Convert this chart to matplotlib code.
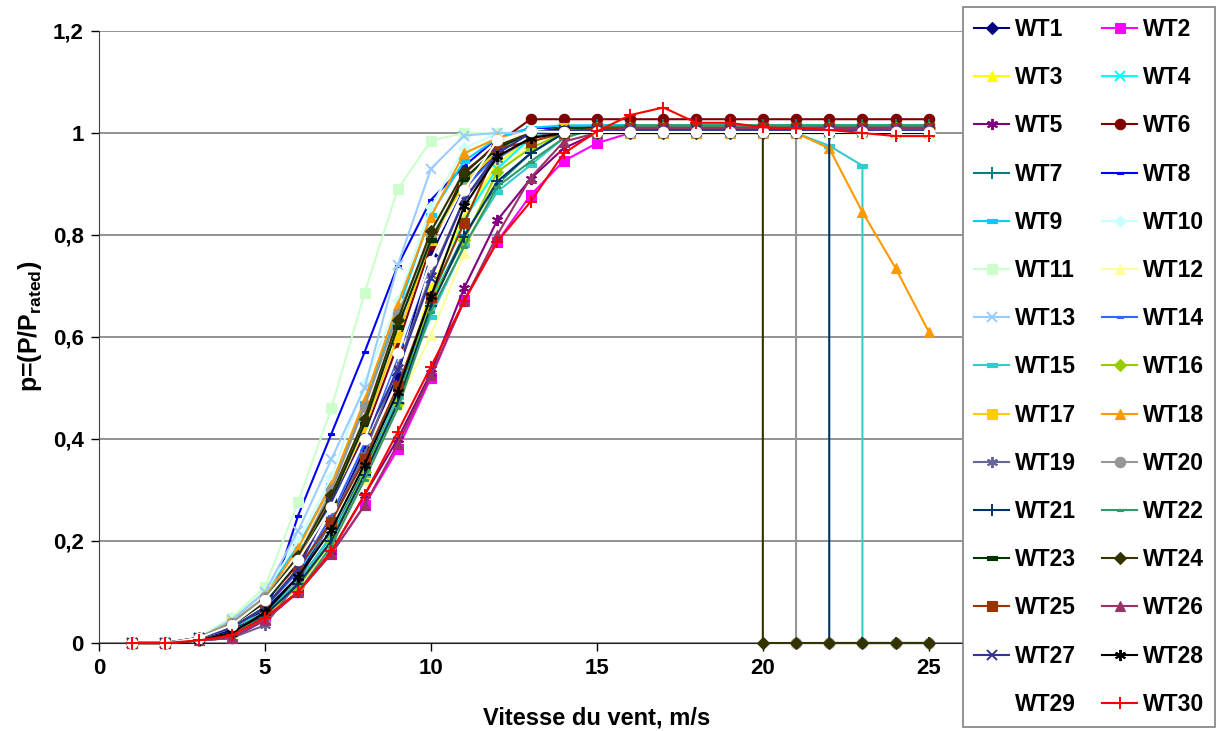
import matplotlib
matplotlib.use("Agg")
import matplotlib.pyplot as plt
from matplotlib.path import Path

plt.rcParams['font.family'] = ['Liberation Sans', 'DejaVu Sans']
plt.rcParams['font.weight'] = 'bold'
plt.rcParams['mathtext.fontset'] = 'custom'
plt.rcParams['mathtext.rm'] = 'Liberation Sans:bold'
plt.rcParams['mathtext.bf'] = 'Liberation Sans:bold'
plt.rcParams['mathtext.it'] = 'Liberation Sans:bold'

speeds = list(range(1, 26))

WT1 = [0, 0, 0.005, 0.025, 0.065, 0.13, 0.24, 0.38, 0.525, 0.761, 0.89, 0.965, 1.0, 1.01, 1.01, 1.01, 1.01, 1.01, 1.01, 1.01, 1.01, 1.01, 1.01, 1.01, 1.01]
WT2 = [0, 0, 0.005, 0.01, 0.045, 0.10, 0.175, 0.27, 0.38, 0.52, 0.673, 0.787, 0.878, 0.945, 0.98, 1.0, 1.005, 1.01, 1.01, 1.01, 1.01, 1.01, 1.01, 1.01, 1.01]
WT3 = [0, 0, 0.005, 0.02, 0.06, 0.11, 0.20, 0.33, 0.475, 0.696, 0.836, 0.94, 0.99, 1.0, 1.0, 1.0, 1.0, 1.0, 1.0, 1.0, 1.0, 1.0, 1.0, 1.0, 1.0]
WT4 = [0, 0, 0.01, 0.04, 0.08, 0.14, 0.24, 0.36, 0.49, 0.67, 0.83, 0.93, 0.99, 1.01, 1.015, 1.015, 1.015, 1.015, 1.015, 1.015, 1.015, 1.015, 1.015, 1.015, 1.015]
WT5 = [0, 0, 0.005, 0.01, 0.045, 0.10, 0.18, 0.29, 0.40, 0.53, 0.696, 0.829, 0.91, 0.97, 1.0, 1.005, 1.005, 1.005, 1.005, 1.005, 1.005, 1.005, 1.005, 1.005, 1.005]
WT6 = [0, 0, 0.01, 0.035, 0.08, 0.155, 0.27, 0.41, 0.585, 0.78, 0.92, 0.98, 1.027, 1.027, 1.027, 1.027, 1.027, 1.027, 1.027, 1.027, 1.027, 1.027, 1.027, 1.027, 1.027]
WT7 = [0, 0, 0.005, 0.02, 0.06, 0.12, 0.21, 0.34, 0.48, 0.667, 0.80, 0.90, 0.96, 1.0, 1.015, 1.015, 1.015, 1.015, 1.015, 1.015, 1.015, 1.015, 1.015, 1.015, 1.015]
WT8 = [0, 0, 0.005, 0.02, 0.05, 0.25, 0.41, 0.57, 0.74, 0.869, 0.935, 0.99, 1.01, 1.01, 1.01, 1.01, 1.01, 1.01, 1.01, 1.01, 1.01, 1.01, 1.01, 1.01, 1.01]
WT9 = [0, 0, 0.01, 0.045, 0.10, 0.19, 0.31, 0.47, 0.65, 0.84, 0.945, 0.99, 1.01, 1.015, 1.015, 1.015, 1.015, 1.015, 1.015, 1.015, 1.015, 1.015, 1.015, 1.015, 1.015]
WT10 = [0, 0, 0.01, 0.05, 0.10, 0.20, 0.325, 0.51, 0.67, 0.855, 0.97, 1.0, 1.0, 1.0, 1.0, 1.0, 1.0, 1.0, 1.0, 1.0, 1.0, 1.0, 1.0, 1.0, 1.0]
WT11 = [0, 0, 0.01, 0.05, 0.11, 0.277, 0.46, 0.686, 0.89, 0.985, 1.0, 1.0, 1.0, 1.0, 1.0, 1.0, 1.0, 1.0, 1.0, 1.0, 1.0, 1.0, 1.0, 1.0, 1.0]
WT12 = [0, 0, 0.005, 0.02, 0.05, 0.10, 0.19, 0.32, 0.467, 0.604, 0.764, 0.92, 0.98, 1.0, 1.0, 1.0, 1.0, 1.0, 1.0, 1.0, 1.0, 1.0, 1.0, 1.0, 1.0]
WT13 = [0, 0, 0.01, 0.045, 0.10, 0.22, 0.36, 0.50, 0.741, 0.93, 0.995, 1.0, 1.0, 1.0, 1.0, 1.0, 1.0, 1.0, 1.0, 1.0, 1.0, 1.0, 1.0, 1.0, 1.0]
WT14 = [0, 0, 0.01, 0.03, 0.07, 0.14, 0.25, 0.39, 0.56, 0.75, 0.89, 0.96, 1.0, 1.01, 1.01, 1.01, 1.01, 1.01, 1.01, 1.01, 1.01, 1.01, 1.01, 1.01, 1.01]
WT15 = [0, 0, 0.01, 0.03, 0.06, 0.12, 0.21, 0.33, 0.483, 0.64, 0.78, 0.885, 0.937, 0.99, 1.01, 1.015, 1.015, 1.015, 1.015, 1.015, 1.0, 0.975, 0.936, 0, 0]
WT16 = [0, 0, 0.005, 0.02, 0.055, 0.11, 0.20, 0.335, 0.47, 0.67, 0.79, 0.924, 0.97, 1.0, 1.01, 1.01, 1.01, 1.01, 1.01, 1.01, 1.01, 1.01, 1.01, 1.01, 1.01]
WT17 = [0, 0, 0.01, 0.04, 0.085, 0.165, 0.28, 0.424, 0.60, 0.79, 0.90, 0.965, 1.0, 1.01, 1.01, 1.01, 1.01, 1.01, 1.01, 1.01, 1.01, 1.01, 1.01, 1.01, 1.01]
WT18 = [0, 0, 0.01, 0.04, 0.09, 0.186, 0.31, 0.476, 0.663, 0.836, 0.96, 0.99, 1.0, 1.0, 1.0, 1.0, 1.0, 1.0, 1.0, 1.0, 1.0, 0.97, 0.845, 0.735, 0.61]
WT19 = [0, 0, 0.005, 0.01, 0.035, 0.12, 0.24, 0.37, 0.542, 0.722, 0.87, 0.95, 0.99, 1.005, 1.005, 1.005, 1.005, 1.005, 1.005, 1.005, 1.005, 1.005, 1.005, 1.005, 1.005]
WT20 = [0, 0, 0.01, 0.04, 0.09, 0.17, 0.30, 0.463, 0.645, 0.794, 0.908, 0.97, 1.0, 1.0, 1.0, 1.0, 1.0, 1.0, 1.0, 1.0, 1.0, 0, 0, 0, 0]
WT21 = [0, 0, 0.005, 0.02, 0.055, 0.115, 0.20, 0.33, 0.47, 0.66, 0.797, 0.905, 0.96, 1.0, 1.005, 1.005, 1.005, 1.005, 1.005, 1.005, 1.005, 1.005, 0, 0, 0]
WT22 = [0, 0, 0.005, 0.02, 0.05, 0.10, 0.19, 0.32, 0.46, 0.65, 0.777, 0.895, 0.944, 0.99, 1.01, 1.015, 1.015, 1.015, 1.015, 1.015, 1.015, 1.015, 1.015, 1.015, 1.015]
WT23 = [0, 0, 0.01, 0.035, 0.08, 0.16, 0.28, 0.43, 0.62, 0.79, 0.91, 0.97, 1.0, 1.01, 1.01, 1.01, 1.01, 1.01, 1.01, 1.01, 1.01, 1.01, 1.01, 1.01, 1.01]
WT24 = [0, 0, 0.01, 0.035, 0.085, 0.17, 0.29, 0.44, 0.633, 0.807, 0.924, 0.975, 1.0, 1.0, 1.0, 1.0, 1.0, 1.0, 1.0, 1.0, 0, 0, 0, 0, 0]
WT25 = [0, 0, 0.01, 0.03, 0.07, 0.147, 0.238, 0.36, 0.503, 0.679, 0.823, 0.97, 0.983, 1.0, 1.01, 1.01, 1.01, 1.01, 1.01, 1.01, 1.01, 1.01, 1.01, 1.01, 1.01]
WT26 = [0, 0, 0.005, 0.01, 0.045, 0.10, 0.175, 0.27, 0.39, 0.525, 0.67, 0.80, 0.912, 0.983, 1.0, 1.01, 1.01, 1.01, 1.01, 1.01, 1.01, 1.01, 1.01, 1.01, 1.01]
WT27 = [0, 0, 0.01, 0.03, 0.07, 0.145, 0.277, 0.40, 0.535, 0.715, 0.869, 0.96, 1.0, 1.005, 1.005, 1.005, 1.005, 1.005, 1.005, 1.005, 1.005, 1.005, 1.005, 1.005, 1.005]
WT28 = [0, 0, 0.005, 0.02, 0.06, 0.13, 0.222, 0.35, 0.493, 0.68, 0.856, 0.954, 0.99, 1.0, 1.0, 1.0, 1.0, 1.0, 1.0, 1.0, 1.0, 1.0, 1.0, 1.0, 1.0]
WT29 = [0, 0, 0.01, 0.035, 0.085, 0.163, 0.267, 0.40, 0.568, 0.75, 0.888, 0.986, 1.003, 1.002, 1.002, 1.002, 1.002, 1.002, 1.002, 1.002, 1.002, 1.002, 1.002, 1.002, 1.002]
WT30 = [0, 0, 0.005, 0.015, 0.05, 0.10, 0.18, 0.29, 0.414, 0.542, 0.67, 0.787, 0.865, 0.96, 1.003, 1.035, 1.05, 1.02, 1.02, 1.011, 1.009, 1.006, 1.0, 0.994, 0.994]

series = [WT1, WT2, WT3, WT4, WT5, WT6, WT7, WT8, WT9, WT10,
          WT11, WT12, WT13, WT14, WT15, WT16, WT17, WT18, WT19, WT20,
          WT21, WT22, WT23, WT24, WT25, WT26, WT27, WT28, WT29, WT30]
names = ['WT%d' % i for i in range(1, 31)]
cutout = {'WT24': 20, 'WT20': 21, 'WT21': 22, 'WT15': 23}

colors = ['#000080', '#FF00FF', '#FFFF00', '#00FFFF', '#800080', '#800000', '#008080', '#0000FF',
          '#00CCFF', '#CCFFFF', '#CCFFCC', '#FFFF99', '#99CCFF', '#3366FF', '#33CCCC', '#99CC00',
          '#FFCC00', '#FF9900', '#666699', '#969696', '#003366', '#339966', '#003300', '#333300',
          '#993300', '#993366', '#333399', '#000000', '#FFFFFF', '#FF0000']

dash_s = Path([(-1, -0.35), (1, -0.35), (1, 0.35), (-1, 0.35), (-1, -0.35)],
              [Path.MOVETO, Path.LINETO, Path.LINETO, Path.LINETO, Path.CLOSEPOLY])
asterisk = (6, 2, 0)
mk = ['D', 's', '^', 'x', asterisk, 'o', '+', dash_s, dash_s, 'D',
      's', '^', 'x', dash_s, dash_s, 'D', 's', '^', asterisk, 'o',
      '+', dash_s, dash_s, 'D', 's', '^', 'x', asterisk, 'o', '+']
msz = {'D': 6, 's': 7, '^': 7.5, 'x': 7, 'o': 7.5, '+': 9}

fig = plt.figure(figsize=(12.16, 7.31), dpi=100)
ax = fig.add_axes([99 / 1216, 88 / 731, 863 / 1216, 612 / 731])

for i, (name, vals) in enumerate(zip(names, series)):
    xs = list(speeds)
    ys = list(vals)
    if name in cutout:
        c = cutout[name]
        xs = speeds[:c] + [c] + speeds[c:]
        ys = vals[:c] + [0] + vals[c:]
    m = mk[i]
    if m is dash_s:
        ms = 7 if name in ('WT9', 'WT15', 'WT23') else 5
    elif m is asterisk:
        ms = 8
    else:
        ms = msz[m]
    ax.plot(xs, ys, color=colors[i], lw=1.5, marker=m, markersize=ms,
            markerfacecolor=colors[i], markeredgecolor=colors[i],
            markeredgewidth=1.4 if m in ('x', '+', asterisk) else 0.8,
            label=name, zorder=3 + i * 0.01, clip_on=False)

ax.set_xlim(0, 26)
ax.set_ylim(0, 1.2)
ax.set_xticks([0, 5, 10, 15, 20, 25])
ax.set_xticklabels(['0', '5', '10', '15', '20', '25'])
ax.set_yticks([0, 0.2, 0.4, 0.6, 0.8, 1.0, 1.2])
ax.set_yticklabels(['0', '0,2', '0,4', '0,6', '0,8', '1', '1,2'])
ax.tick_params(axis='both', labelsize=16, direction='out', length=6, width=1, colors='black', pad=5)
for t in ax.get_xticklabels() + ax.get_yticklabels():
    t.set_fontweight('bold')

ax.yaxis.grid(True, color='#808080', lw=1.2)
ax.set_axisbelow(True)
ax.spines['top'].set_visible(False)
ax.spines['right'].set_visible(False)
ax.spines['left'].set_color('#404040')
ax.spines['bottom'].set_color('#202020')

ax.set_xlabel('Vitesse du vent, m/s', fontsize=17, fontweight='bold')
ax.xaxis.set_label_coords((597 - 99) / 863, -0.104)
ax.set_ylabel('p=(P/P$_{\\rm rated}$)', fontsize=18, fontweight='bold')
ax.yaxis.set_label_coords(-0.064, 0.518)

handles, labels = ax.get_legend_handles_labels()
order = list(range(0, 30, 2)) + list(range(1, 30, 2))
leg = fig.legend([handles[k] for k in order], [labels[k] for k in order],
                 loc='upper left', bbox_to_anchor=(963 / 1216, 1 - 7 / 731),
                 ncol=2, frameon=True, fancybox=False,
                 edgecolor='#606060', borderaxespad=0, handlelength=1.53,
                 handletextpad=0.26, columnspacing=1.13, labelspacing=1.1,
                 borderpad=0.48, prop={'weight': 'bold', 'size': 16.5})
leg.get_frame().set_linewidth(1.2)

fig.savefig('out.png', dpi=100)
